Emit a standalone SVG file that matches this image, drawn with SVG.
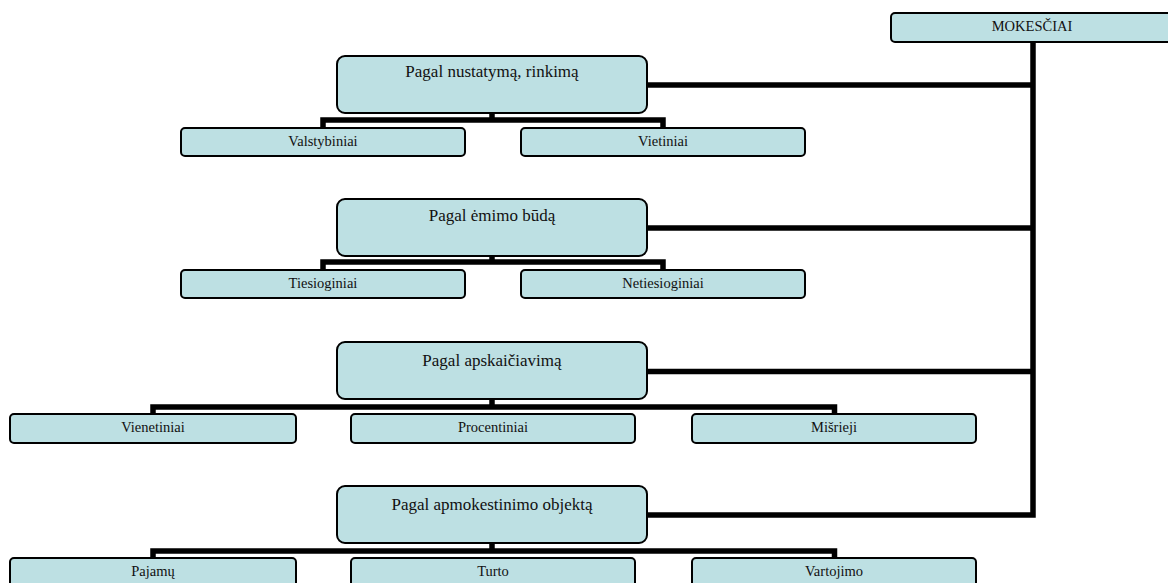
<svg xmlns="http://www.w3.org/2000/svg" width="1168" height="583" viewBox="0 0 1168 583">
<style>
.main{fill:#bde0e3;stroke:#000;stroke-width:2}
.child{fill:#bde0e3;stroke:#000;stroke-width:2}
.conn{fill:none;stroke:#000;stroke-width:5.5;stroke-linejoin:miter}
.t1{font-family:"Liberation Serif","Times New Roman",serif;font-size:17px;fill:#111;text-anchor:middle}
.t2{font-family:"Liberation Serif","Times New Roman",serif;font-size:14.5px;fill:#111;text-anchor:middle}
</style>
<rect width="1168" height="583" fill="#fff"/>
<g id="connectors">
<path class="conn" d="M1033,42 V515 H647"/>
<path class="conn" d="M647,85 H1033"/>
<path class="conn" d="M647,228 H1033"/>
<path class="conn" d="M647,371.5 H1033"/>
<path class="conn" d="M492,113 V120"/>
<path class="conn" d="M323,129 V120 H663 V129"/>
<path class="conn" d="M492,256 V262"/>
<path class="conn" d="M323,271 V262 H663 V271"/>
<path class="conn" d="M492,399 V407"/>
<path class="conn" d="M153,415 V407 H834.5 V415"/>
<path class="conn" d="M492,543 V551"/>
<path class="conn" d="M153,559 V551 H834.5 V559"/>
</g>
<g id="mokesciai">
<rect class="main" x="891" y="13" width="300" height="29" rx="4"/>
<text class="t2" x="1032" y="31">MOKESČIAI</text>
</g>
<g id="s1">
<rect class="main" x="337" y="56" width="310" height="57" rx="8"/>
<text class="t1" x="492" y="77">Pagal nustatymą, rinkimą</text>
</g>
<g id="s1a">
<rect class="child" x="181" y="128" width="284" height="28" rx="4"/>
<text class="t2" x="323" y="146">Valstybiniai</text>
</g>
<g id="s1b">
<rect class="child" x="521" y="128" width="284" height="28" rx="4"/>
<text class="t2" x="663" y="146">Vietiniai</text>
</g>
<g id="s2">
<rect class="main" x="337" y="199" width="310" height="57" rx="8"/>
<text class="t1" x="492" y="221">Pagal ėmimo būdą</text>
</g>
<g id="s2a">
<rect class="child" x="181" y="270" width="284" height="28" rx="4"/>
<text class="t2" x="323" y="288">Tiesioginiai</text>
</g>
<g id="s2b">
<rect class="child" x="521" y="270" width="284" height="28" rx="4"/>
<text class="t2" x="663" y="288">Netiesioginiai</text>
</g>
<g id="s3">
<rect class="main" x="337" y="342" width="310" height="57" rx="8"/>
<text class="t1" x="492" y="366">Pagal apskaičiavimą</text>
</g>
<g id="s3a">
<rect class="child" x="10" y="414" width="286" height="29" rx="4"/>
<text class="t2" x="153" y="432">Vienetiniai</text>
</g>
<g id="s3b">
<rect class="child" x="351" y="414" width="284" height="29" rx="4"/>
<text class="t2" x="493" y="432">Procentiniai</text>
</g>
<g id="s3c">
<rect class="child" x="692" y="414" width="284" height="29" rx="4"/>
<text class="t2" x="834" y="432">Mišrieji</text>
</g>
<g id="s4">
<rect class="main" x="337" y="486" width="310" height="57" rx="8"/>
<text class="t1" x="492" y="510">Pagal apmokestinimo objektą</text>
</g>
<g id="s4a">
<rect class="child" x="10" y="558" width="286" height="30" rx="4"/>
<text class="t2" x="153" y="576">Pajamų</text>
</g>
<g id="s4b">
<rect class="child" x="351" y="558" width="284" height="30" rx="4"/>
<text class="t2" x="493" y="576">Turto</text>
</g>
<g id="s4c">
<rect class="child" x="692" y="558" width="284" height="30" rx="4"/>
<text class="t2" x="834" y="576">Vartojimo</text>
</g>
</svg>
